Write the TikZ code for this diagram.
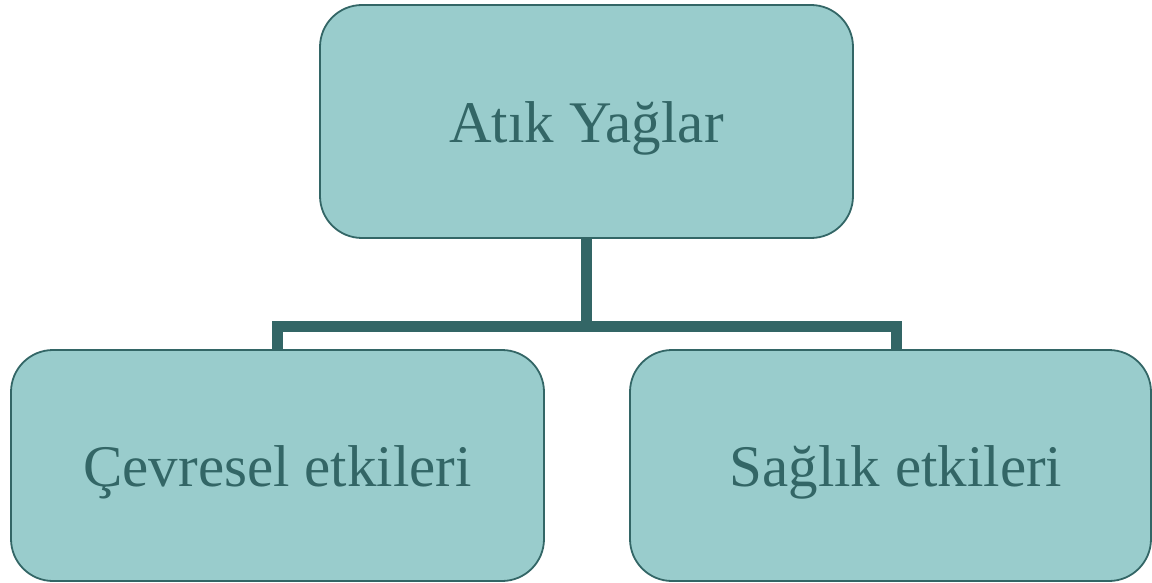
\documentclass[tikz,border=0pt]{standalone}
\usepackage{fontspec}
\setmainfont{Liberation Serif}
\definecolor{boxfill}{HTML}{99CCCC}
\definecolor{teal}{HTML}{336666}
\newcommand{\lowertext}[1]{\raisebox{-7pt}[\height][\depth]{#1}}
\begin{document}
\begin{tikzpicture}[x=1pt,y=-1pt,
  box/.style={draw=teal, line width=1.8pt, fill=boxfill, rounded corners=42pt,
    text=teal, font=\fontsize{59}{70}\selectfont, inner sep=0pt},
  conn/.style={draw=teal, line width=11pt}]
\useasboundingbox (0,0) rectangle (1152,583);
\node[box, minimum width=533pt, minimum height=233pt] (top) at (586.5,121.5) {\lowertext{Atık Yağlar}};
\node[box, minimum width=533pt, minimum height=231pt] (left) at (277.5,465.5) {\lowertext{Çevresel etkileri}};
\node[box, minimum width=521pt, minimum height=231pt] (right) at (890.5,465.5) {\hspace*{11pt}\lowertext{Sağlık etkileri}};
\coordinate (bus) at (586.5,326.5);
\coordinate (rdrop) at (896,350);
\draw[conn] (top.south) -- (bus);
\draw[conn] (left.north) |- (bus -| rdrop) -- (rdrop);
\end{tikzpicture}
\end{document}
